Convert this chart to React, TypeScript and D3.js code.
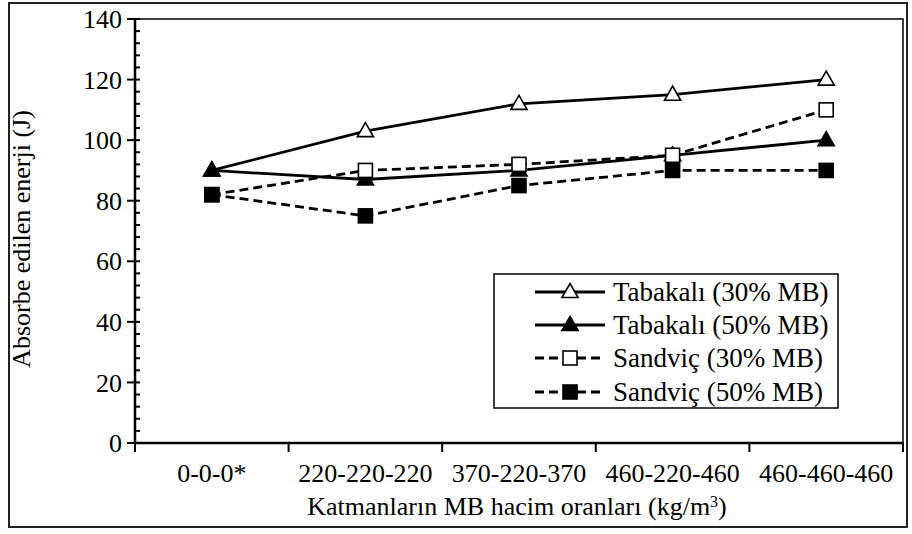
import React from "react";
import * as d3 from "d3";

const categories = ["0-0-0*", "220-220-220", "370-220-370", "460-220-460", "460-460-460"];
const tabakali30 = [90, 103, 112, 115, 120];
const tabakali50 = [90, 87, 90, 95, 100];
const sandvic30 = [82, 90, 92, 95, 110];
const sandvic50 = [82, 75, 85, 90, 90];
const seriesNames = ["Tabakalı (30% MB)", "Tabakalı (50% MB)", "Sandviç (30% MB)", "Sandviç (50% MB)"];
const yTicks = [0, 20, 40, 60, 80, 100, 120, 140];

const W = 912;
const H = 534;
const FONT = '"Liberation Serif", "DejaVu Serif", serif';
const FS = 26;

type Series = { name: string; values: number[]; marker: "tri" | "sq"; filled: boolean; dashed: boolean };

export default function App() {
  const left = 135, right = 903, top = 19, bottom = 443;
  const x = d3.scaleBand<string>().domain(categories).range([left, right]).padding(0);
  const y = d3.scaleLinear().domain([0, 140]).range([bottom, top]);
  const cx = (c: string) => (x(c) as number) + x.bandwidth() / 2;

  const series: Series[] = [
    { name: seriesNames[0], values: tabakali30, marker: "tri", filled: false, dashed: false },
    { name: seriesNames[1], values: tabakali50, marker: "tri", filled: true, dashed: false },
    { name: seriesNames[2], values: sandvic30, marker: "sq", filled: false, dashed: true },
    { name: seriesNames[3], values: sandvic50, marker: "sq", filled: true, dashed: true },
  ];

  const line = d3
    .line<number>()
    .x((_, i) => cx(categories[i]))
    .y((v) => y(v));

  const minorTicks = d3.range(0, 141, 4).filter((v) => v % 20 !== 0);
  const xTickPos = [...categories.map((c) => x(c) as number), right];

  const marker = (s: Series, px: number, py: number, key: string) => {
    const fill = s.filled ? "#000" : "#fff";
    if (s.marker === "tri") {
      const r = 8.5;
      const pts = `${px},${py - r} ${px + r * 0.95},${py + r * 0.65} ${px - r * 0.95},${py + r * 0.65}`;
      return <polygon key={key} points={pts} fill={fill} stroke="#000" strokeWidth={1.6} strokeLinejoin="miter" />;
    }
    const h = 7;
    return <rect key={key} x={px - h} y={py - h} width={2 * h} height={2 * h} fill={fill} stroke="#000" strokeWidth={1.6} />;
  };

  const legX = 494, legY = 274, legW = 344, legH = 134;
  const rowY = [292, 325, 358, 392];
  const ts: React.CSSProperties = { fontFamily: FONT, fontSize: FS };
  const tl: React.CSSProperties = { fontFamily: FONT, fontSize: 27 };

  return (
    <svg width={W} height={H} style={{ position: "absolute", left: 0, top: 0, background: "#fff", fontFamily: FONT }}>
      <rect x={0} y={0} width={W} height={H} fill="#fff" />
      {/* outer frame */}
      <rect x={9} y={3} width={898} height={524} fill="none" stroke="#222" strokeWidth={2} />

      {/* plot border */}
      <rect x={left} y={top} width={right - left} height={bottom - top} fill="none" stroke="#000" strokeWidth={1.5} />

      {/* y axis */}
      <line x1={left} x2={left} y1={top} y2={bottom} stroke="#000" strokeWidth={2.5} />
      {yTicks.map((t) => (
        <g key={"yt" + t}>
          <line x1={left - 8} x2={left + 5} y1={y(t)} y2={y(t)} stroke="#000" strokeWidth={2} />
          <text x={left - 13} y={y(t)} dy="0.35em" textAnchor="end" style={ts} fill="#000">
            {t}
          </text>
        </g>
      ))}
      {minorTicks.map((t) => (
        <line key={"ym" + t} x1={left} x2={left + 5} y1={y(t)} y2={y(t)} stroke="#000" strokeWidth={2} />
      ))}

      {/* x axis */}
      <line x1={left} x2={right} y1={bottom} y2={bottom} stroke="#000" strokeWidth={2.5} />
      {xTickPos.map((p, i) => (
        <line key={"xt" + i} x1={p} x2={p} y1={bottom} y2={bottom + 9} stroke="#000" strokeWidth={2} />
      ))}
      {categories.map((c) => (
        <text key={"xl" + c} x={cx(c)} y={482} textAnchor="middle" style={ts} fill="#000">
          {c}
        </text>
      ))}

      {/* axis titles */}
      <text x={517} y={515} textAnchor="middle" style={ts} fill="#000">
        Katmanların MB hacim oranları (kg/m
        <tspan baselineShift="super" style={{ fontSize: 16 }}>3</tspan>)
      </text>
      <text transform={`translate(30,239) rotate(-90)`} textAnchor="middle" style={ts} fill="#000">
        Absorbe edilen enerji (J)
      </text>

      {/* series */}
      {series.map((s, si) => (
        <path
          key={"ln" + si}
          d={line(s.values) || ""}
          fill="none"
          stroke="#000"
          strokeWidth={2.8}
          strokeDasharray={s.dashed ? "9,5" : undefined}
        />
      ))}
      {series.map((s, si) => s.values.map((v, i) => marker(s, cx(categories[i]), y(v), `m${si}-${i}`)))}

      {/* legend */}
      <rect x={legX} y={legY} width={legW} height={legH} fill="#fff" stroke="#000" strokeWidth={1.5} />
      {series.map((s, si) => (
        <g key={"lg" + si}>
          <line
            x1={535}
            x2={605}
            y1={rowY[si]}
            y2={rowY[si]}
            stroke="#000"
            strokeWidth={2.8}
            strokeDasharray={s.dashed ? "9,5" : undefined}
          />
          {marker(s, 570, rowY[si], "lm" + si)}
          <text x={613} y={rowY[si]} dy="0.35em" style={tl} fill="#000">
            {s.name}
          </text>
        </g>
      ))}
    </svg>
  );
}
